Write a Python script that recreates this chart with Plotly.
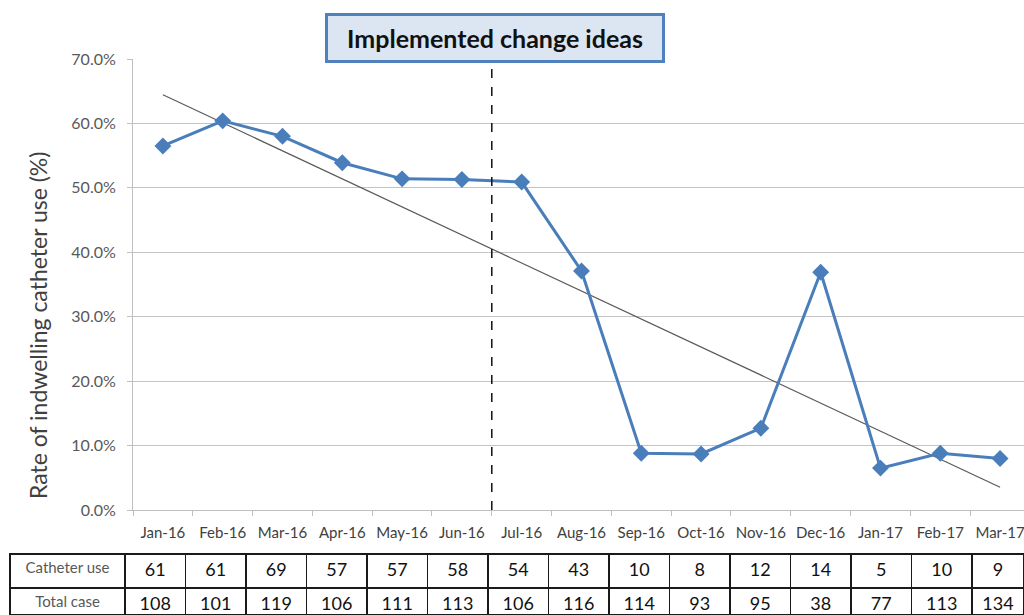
import numpy as np
import plotly.graph_objects as go

months = ["Jan-16", "Feb-16", "Mar-16", "Apr-16", "May-16", "Jun-16", "Jul-16",
          "Aug-16", "Sep-16", "Oct-16", "Nov-16", "Dec-16", "Jan-17", "Feb-17", "Mar-17"]
rates = [0.565, 0.604, 0.580, 0.539, 0.514, 0.513, 0.509, 0.371, 0.088, 0.087,
         0.127, 0.369, 0.065, 0.088, 0.080]
catheter_use = [61, 61, 69, 57, 57, 58, 54, 43, 10, 8, 12, 14, 5, 10, 9]
total_case = [108, 101, 119, 106, 111, 113, 106, 116, 114, 93, 95, 38, 77, 113, 134]
y_ticks = [0.0, 0.1, 0.2, 0.3, 0.4, 0.5, 0.6, 0.7]
change_label = "Implemented change ideas"
change_after = "Jun-16"

W, H = 1024, 615
FONT = "Lato, 'Open Sans', sans-serif"

idx = np.arange(len(months))
slope, intercept = np.polyfit(idx, rates, 1)
trend = intercept + slope * idx

fig = go.Figure()
fig.add_trace(go.Scatter(
    x=months, y=list(trend), mode="lines",
    line=dict(color="#5a5a5a", width=1.2), hoverinfo="skip", showlegend=False,
    xaxis="x", yaxis="y"))
fig.add_trace(go.Scatter(
    x=months, y=rates, mode="lines+markers",
    line=dict(color="#4a7ebb", width=3),
    marker=dict(symbol="diamond", size=13, color="#4a7ebb"),
    showlegend=False, xaxis="x", yaxis="y"))

# data table under the chart
col_w = [115] + [60.5] * (len(months) - 1) + [52]
n = len(months)
fig.add_trace(go.Table(
    domain=dict(x=[10 / W, 1.0], y=[0, 61 / H]),
    columnwidth=col_w,
    header=dict(
        values=["Catheter use"] + [str(v) for v in catheter_use],
        align="center", height=34,
        fill=dict(color="white"),
        line=dict(color="#1a1a1a", width=1.5),
        font=dict(family=FONT, size=[15] + [18] * n,
                  color=["#595959"] + ["#111111"] * n)),
    cells=dict(
        values=[["Total case"]] + [[str(v)] for v in total_case],
        align="center", height=27,
        fill=dict(color="white"),
        line=dict(color="#1a1a1a", width=1.5),
        font=dict(family=FONT, size=[15] + [18] * n,
                  color=["#595959"] + ["#111111"] * n)),
))

split = months.index(change_after) + 0.5
fig.add_shape(type="line", xref="x", yref="y", x0=split, x1=split,
              y0=0, y1=y_ticks[-1], line=dict(color="#111111", width=1.5, dash="dash"))
fig.add_annotation(xref="x", yref="paper", x=split + 0.06, y=(H - 37.5) / H,
                   text="<b>" + change_label + "</b>", showarrow=False,
                   font=dict(family=FONT, size=25, color="#111111"),
                   bgcolor="#dce6f2", bordercolor="#4f81bd", borderwidth=3,
                   borderpad=7, width=320, align="center",
                   xanchor="center", yanchor="middle")
fig.add_annotation(xref="paper", yref="paper", x=38 / W, y=(H - 326) / H,
                   text="Rate of indwelling catheter use (%)", textangle=-90,
                   showarrow=False, font=dict(family=FONT, size=23, color="#404040"),
                   xanchor="center", yanchor="middle")

fig.update_layout(
    width=W, height=H, paper_bgcolor="white", plot_bgcolor="white",
    margin=dict(l=0, r=0, t=0, b=0),
    xaxis=dict(domain=[133 / W, 1.0], type="category", range=[-0.5, 14.4],
               tickson="boundaries", ticks="outside", ticklen=5, tickcolor="#bfbfbf",
               showline=True, linecolor="#bfbfbf", linewidth=1, showgrid=False,
               tickangle=0,
               tickfont=dict(family=FONT, size=15, color="#404040"),
               automargin=False, anchor="y", ticklabelstandoff=9),
    yaxis=dict(domain=[(H - 510) / H, (H - 59) / H], range=[0, 0.7],
               tickvals=y_ticks, tickformat=".1%", ticks="outside", ticklen=5,
               tickcolor="#bfbfbf", showline=True, linecolor="#bfbfbf", linewidth=1,
               showgrid=True, gridcolor="#c4c4c4", gridwidth=1.3, zeroline=False,
               tickfont=dict(family=FONT, size=16, color="#595959"),
               automargin=False, anchor="x", ticklabelstandoff=8),
)

fig.write_html("out.html", config={"displayModeBar": False},
               post_script="document.body.style.margin='0';")
